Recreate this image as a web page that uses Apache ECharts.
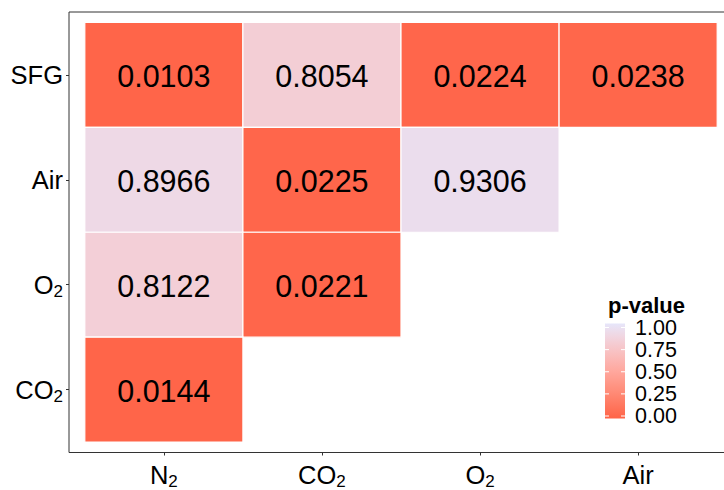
<!DOCTYPE html>
<html>
<head>
<meta charset="utf-8">
<script src="https://cdn.jsdelivr.net/npm/echarts@6/dist/echarts.min.js"></script>
<style>
  html, body { margin: 0; padding: 0; background: #fff; overflow: hidden; }
  #chart { width: 740px; height: 490px; }
</style>
</head>
<body>
<div id="chart"></div>
<script>
// Column (x) and row (y, top to bottom) categories
const colNames = ['N2', 'CO2', 'O2', 'Air'];
const rowNames = ['SFG', 'Air', 'O2', 'CO2'];

// Pairwise p-values, one array per row (null = no comparison)
const pSFG = [0.0103, 0.8054, 0.0224, 0.0238];
const pAir = [0.8966, 0.0225, 0.9306, null];
const pO2  = [0.8122, 0.0221, null, null];
const pCO2 = [0.0144, null, null, null];
const pRows = [pSFG, pAir, pO2, pCO2];

// Colour bar ticks
const legendTicks = [0, 0.25, 0.5, 0.75, 1];

const LOW = [255, 99, 71];    // tomato
const HIGH = [230, 230, 250]; // lavender

// --- Lab colour interpolation ---
function toLin(c) { c /= 255; return c <= 0.04045 ? c / 12.92 : Math.pow((c + 0.055) / 1.055, 2.4); }
function fromLin(c) { const v = c <= 0.0031308 ? 12.92 * c : 1.055 * Math.pow(c, 1 / 2.4) - 0.055; return Math.max(0, Math.min(255, Math.round(v * 255))); }
function rgb2lab(rgb) {
  const r = toLin(rgb[0]), g = toLin(rgb[1]), b = toLin(rgb[2]);
  let X = (0.4124 * r + 0.3576 * g + 0.1805 * b) / 0.95047;
  let Y = (0.2126 * r + 0.7152 * g + 0.0722 * b);
  let Z = (0.0193 * r + 0.1192 * g + 0.9505 * b) / 1.08883;
  const f = t => t > 0.008856 ? Math.cbrt(t) : 7.787 * t + 16 / 116;
  const fx = f(X), fy = f(Y), fz = f(Z);
  return [116 * fy - 16, 500 * (fx - fy), 200 * (fy - fz)];
}
function lab2rgb(lab) {
  const fy = (lab[0] + 16) / 116, fx = fy + lab[1] / 500, fz = fy - lab[2] / 200;
  const inv = t => t * t * t > 0.008856 ? t * t * t : (t - 16 / 116) / 7.787;
  const X = inv(fx) * 0.95047, Y = inv(fy), Z = inv(fz) * 1.08883;
  const r = 3.2406 * X - 1.5372 * Y - 0.4986 * Z;
  const g = -0.9689 * X + 1.8758 * Y + 0.0415 * Z;
  const b = 0.0557 * X - 0.2040 * Y + 1.0570 * Z;
  return 'rgb(' + fromLin(r) + ',' + fromLin(g) + ',' + fromLin(b) + ')';
}
const LAB_LOW = rgb2lab(LOW), LAB_HIGH = rgb2lab(HIGH);
function fillFor(p) {
  return lab2rgb([0, 1, 2].map(i => LAB_LOW[i] + (LAB_HIGH[i] - LAB_LOW[i]) * p));
}

// Tile data: [x, y, p]; y counts from the bottom row
const cells = [];
pRows.forEach((row, ri) => {
  row.forEach((p, ci) => {
    if (p !== null) cells.push([ci + 1, rowNames.length - ri, p]);
  });
});

// Category names with subscript digits
function richName(name) {
  return name.replace(/(\d)/g, '{sub|$1}').replace(/^([^{]+)/, '{base|$1}').replace(/\}([^{]+)$/, '}{base|$1}');
}
const richStyles = {
  base: { fontSize: 25.5, fontFamily: 'Liberation Sans', color: '#000', lineHeight: 30 },
  sub: { fontSize: 17, fontFamily: 'Liberation Sans', color: '#000', lineHeight: 30, padding: [14, 0, 0, 0] }
};

const chart = echarts.init(document.getElementById('chart'), null, { renderer: 'svg' });

const option = {
  animation: false,
  backgroundColor: '#fff',
  title: {
    text: 'p-value',
    left: 603,
    top: 289,
    textStyle: { fontFamily: 'Liberation Sans', fontWeight: 'bold', fontSize: 22, color: '#000' }
  },
  grid: [
    { left: 69, top: 12, width: 664, height: 446, show: true, borderColor: '#333', borderWidth: 1, backgroundColor: 'transparent' },
    { left: 605, top: 327.5, width: 20, height: 88.5 }
  ],
  xAxis: [
    {
      gridIndex: 0, type: 'value', min: 0.4, max: 4.6,
      splitLine: { show: false }, axisLine: { show: false },
      axisTick: { show: true, customValues: [1, 2, 3, 4], length: 3, lineStyle: { color: '#333' } },
      axisLabel: {
        customValues: [1, 2, 3, 4], margin: 7,
        formatter: v => richName(colNames[Math.round(v) - 1]),
        rich: richStyles
      }
    },
    { gridIndex: 1, type: 'value', min: 0, max: 1, show: false }
  ],
  yAxis: [
    {
      gridIndex: 0, type: 'value', min: 0.4, max: 4.6,
      splitLine: { show: false }, axisLine: { show: false },
      axisTick: { show: true, customValues: [1, 2, 3, 4], length: 3, lineStyle: { color: '#333' } },
      axisLabel: {
        customValues: [1, 2, 3, 4], margin: 6,
        formatter: v => richName(rowNames[rowNames.length - Math.round(v)]),
        rich: richStyles
      }
    },
    {
      gridIndex: 1, type: 'value', min: 0, max: 1, interval: 0.25, position: 'right',
      splitLine: { show: false }, axisLine: { show: false }, axisTick: { show: false },
      axisLabel: {
        margin: 10, fontSize: 21.5, fontFamily: 'Liberation Sans', color: '#000',
        formatter: v => v.toFixed(2)
      }
    }
  ],
  series: [
    {
      type: 'custom',
      xAxisIndex: 0, yAxisIndex: 0,
      data: cells,
      renderItem: function (params, api) {
        const x = api.value(0), y = api.value(1), p = api.value(2);
        const tl = api.coord([x - 0.5, y + 0.5]);
        const br = api.coord([x + 0.5, y - 0.5]);
        const c = api.coord([x, y]);
        return {
          type: 'group',
          children: [
            {
              type: 'rect',
              shape: { x: tl[0], y: tl[1], width: br[0] - tl[0], height: br[1] - tl[1] },
              style: { fill: fillFor(p), stroke: '#fff', lineWidth: 1.2 }
            },
            {
              type: 'text',
              style: {
                text: p.toFixed(4), x: c[0], y: c[1] + 1, align: 'center', verticalAlign: 'middle',
                font: '30.5px "Liberation Sans"', fill: '#000'
              }
            }
          ]
        };
      }
    },
    {
      // colour bar, padded a little beyond the 0 and 1 ticks
      type: 'custom',
      xAxisIndex: 1, yAxisIndex: 1,
      data: [[0, 1]],
      renderItem: function (params, api) {
        const top = api.coord([0, 1]);
        const bot = api.coord([1, 0]);
        const y0 = top[1] - 4, y1 = bot[1] + 2.5;
        const stops = [];
        for (let i = 0; i <= 20; i++) stops.push({ offset: i / 20, color: fillFor(1 - i / 20) });
        return {
          type: 'rect',
          shape: { x: top[0], y: y0, width: bot[0] - top[0], height: y1 - y0 },
          style: { fill: new echarts.graphic.LinearGradient(0, 0, 0, 1, stops) }
        };
      }
    },
    {
      // white tick marks on the colour bar
      type: 'custom',
      xAxisIndex: 1, yAxisIndex: 1,
      data: legendTicks.map(v => [0, v]),
      renderItem: function (params, api) {
        const l = api.coord([0, api.value(1)]);
        const r = api.coord([1, api.value(1)]);
        return {
          type: 'group',
          children: [
            { type: 'line', shape: { x1: l[0], y1: l[1], x2: l[0] + 4, y2: l[1] }, style: { stroke: '#fff', lineWidth: 1 } },
            { type: 'line', shape: { x1: r[0] - 4, y1: r[1], x2: r[0], y2: r[1] }, style: { stroke: '#fff', lineWidth: 1 } }
          ]
        };
      }
    }
  ]
};

chart.setOption(option);
</script>
</body>
</html>
